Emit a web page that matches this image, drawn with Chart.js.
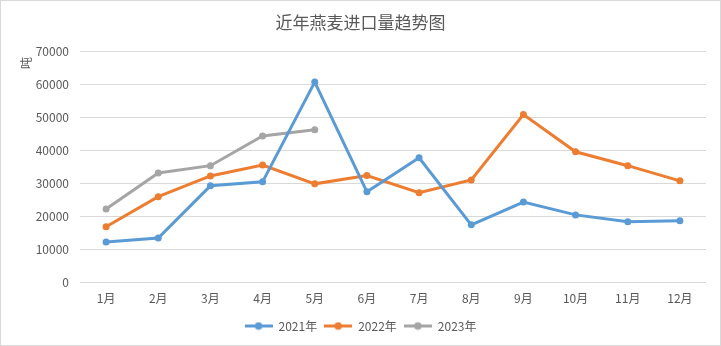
<!DOCTYPE html>
<html>
<head>
<meta charset="utf-8">
<script src="https://cdn.jsdelivr.net/npm/chart.js@4/dist/chart.umd.min.js"></script>
<style>
  html, body { margin: 0; padding: 0; background: #fff; }
  #wrap { width: 721px; height: 346px; }
</style>
</head>
<body>
<div id="wrap"><canvas id="chart" width="721" height="346"></canvas></div>
<script>
// Oat import volume by month, tonnes
const months = ['1月', '2月', '3月', '4月', '5月', '6月', '7月', '8月', '9月', '10月', '11月', '12月'];
const y2021 = [12300, 13500, 29300, 30500, 60700, 27500, 37800, 17500, 24400, 20500, 18400, 18700];
const y2022 = [16900, 26000, 32300, 35600, 29900, 32400, 27200, 31100, 50900, 39600, 35400, 30800];
const y2023 = [22300, 33200, 35400, 44400, 46300];
const yTicksMax = 70000;
const yStep = 10000;

const FONT = '"Noto Sans CJK SC", "Noto Sans", sans-serif';
const TEXT = '#595959';

// legend marker: short line with a dot in the middle
function legendMark(color) {
  const c = document.createElement('canvas');
  c.width = 28;
  c.height = 9;
  const g = c.getContext('2d');
  g.strokeStyle = color;
  g.lineWidth = 3;
  g.beginPath();
  g.moveTo(0, 4.5);
  g.lineTo(28, 4.5);
  g.stroke();
  g.fillStyle = color;
  g.beginPath();
  g.arc(14, 4.5, 3.8, 0, Math.PI * 2);
  g.fill();
  return c;
}

const frame = {
  id: 'frame',
  beforeDraw(chart) {
    const ctx = chart.ctx;
    ctx.save();
    ctx.fillStyle = '#fff';
    ctx.fillRect(0, 0, chart.width, chart.height);
    ctx.strokeStyle = '#d9d9d9';
    ctx.lineWidth = 1;
    ctx.strokeRect(0.5, 0.5, chart.width - 1, chart.height - 1);
    ctx.restore();
  },
  afterDraw(chart) {
    // unit label at top of the value axis
    const ctx = chart.ctx;
    ctx.save();
    ctx.translate(26, 63);
    ctx.rotate(-Math.PI / 2);
    ctx.fillStyle = TEXT;
    ctx.font = '12px ' + FONT;
    ctx.textAlign = 'center';
    ctx.textBaseline = 'middle';
    ctx.fillText('吨', 0, 0);
    ctx.restore();
  }
};

function series(label, data, color) {
  return {
    label,
    data,
    borderColor: color,
    backgroundColor: color,
    borderWidth: 3,
    tension: 0,
    pointRadius: 3.5,
    pointBackgroundColor: color,
    pointBorderColor: color,
    pointBorderWidth: 0,
    legendMark: legendMark(color),
  };
}

new Chart(document.getElementById('chart').getContext('2d'), {
  type: 'line',
  data: {
    labels: months,
    datasets: [
      series('2021年', y2021, '#5B9BD5'),
      series('2022年', y2022, '#ED7D31'),
      series('2023年', y2023, '#A5A5A5'),
    ],
  },
  options: {
    responsive: false,
    animation: false,
    devicePixelRatio: 1,
    layout: { padding: { left: 0, right: 0, top: 0, bottom: 4 } },
    plugins: {
      title: {
        display: true,
        text: '近年燕麦进口量趋势图',
        color: TEXT,
        font: { family: FONT, size: 17, weight: 'normal' },
        padding: { top: 12, bottom: 19 },
      },
      legend: {
        position: 'bottom',
        labels: {
          usePointStyle: true,
          pointStyleWidth: 28,
          padding: 7,
          color: TEXT,
          font: { family: FONT, size: 12 },
          generateLabels(chart) {
            return chart.data.datasets.map((ds, i) => ({
              text: ds.label,
              fillStyle: ds.borderColor,
              strokeStyle: ds.borderColor,
              fontColor: TEXT,
              pointStyle: ds.legendMark,
              lineWidth: 0,
              hidden: false,
              datasetIndex: i,
            }));
          },
        },
      },
      tooltip: { enabled: false },
    },
    scales: {
      x: {
        offset: true,
        grid: { display: false, drawTicks: false },
        border: { display: false },
        ticks: {
          color: TEXT,
          font: { family: FONT, size: 12 },
          padding: 9,
          maxRotation: 0,
        },
        afterFit(scale) {
          scale.height -= 2;
        },
      },
      y: {
        min: 0,
        max: yTicksMax,
        grid: { color: '#d9d9d9', drawTicks: false },
        border: { display: false },
        ticks: {
          stepSize: yStep,
          color: TEXT,
          font: { family: FONT, size: 12 },
          padding: 11,
          callback: (v) => String(v),
        },
        afterFit(scale) {
          scale.width = 80;
        },
      },
      // empty right-hand strip so the legend stays centred on the whole canvas
      yRight: {
        position: 'right',
        grid: { display: false, drawTicks: false },
        border: { display: false },
        ticks: { display: false },
        afterFit(scale) {
          scale.width = 15;
        },
      },
    },
  },
  plugins: [frame],
});
</script>
</body>
</html>
